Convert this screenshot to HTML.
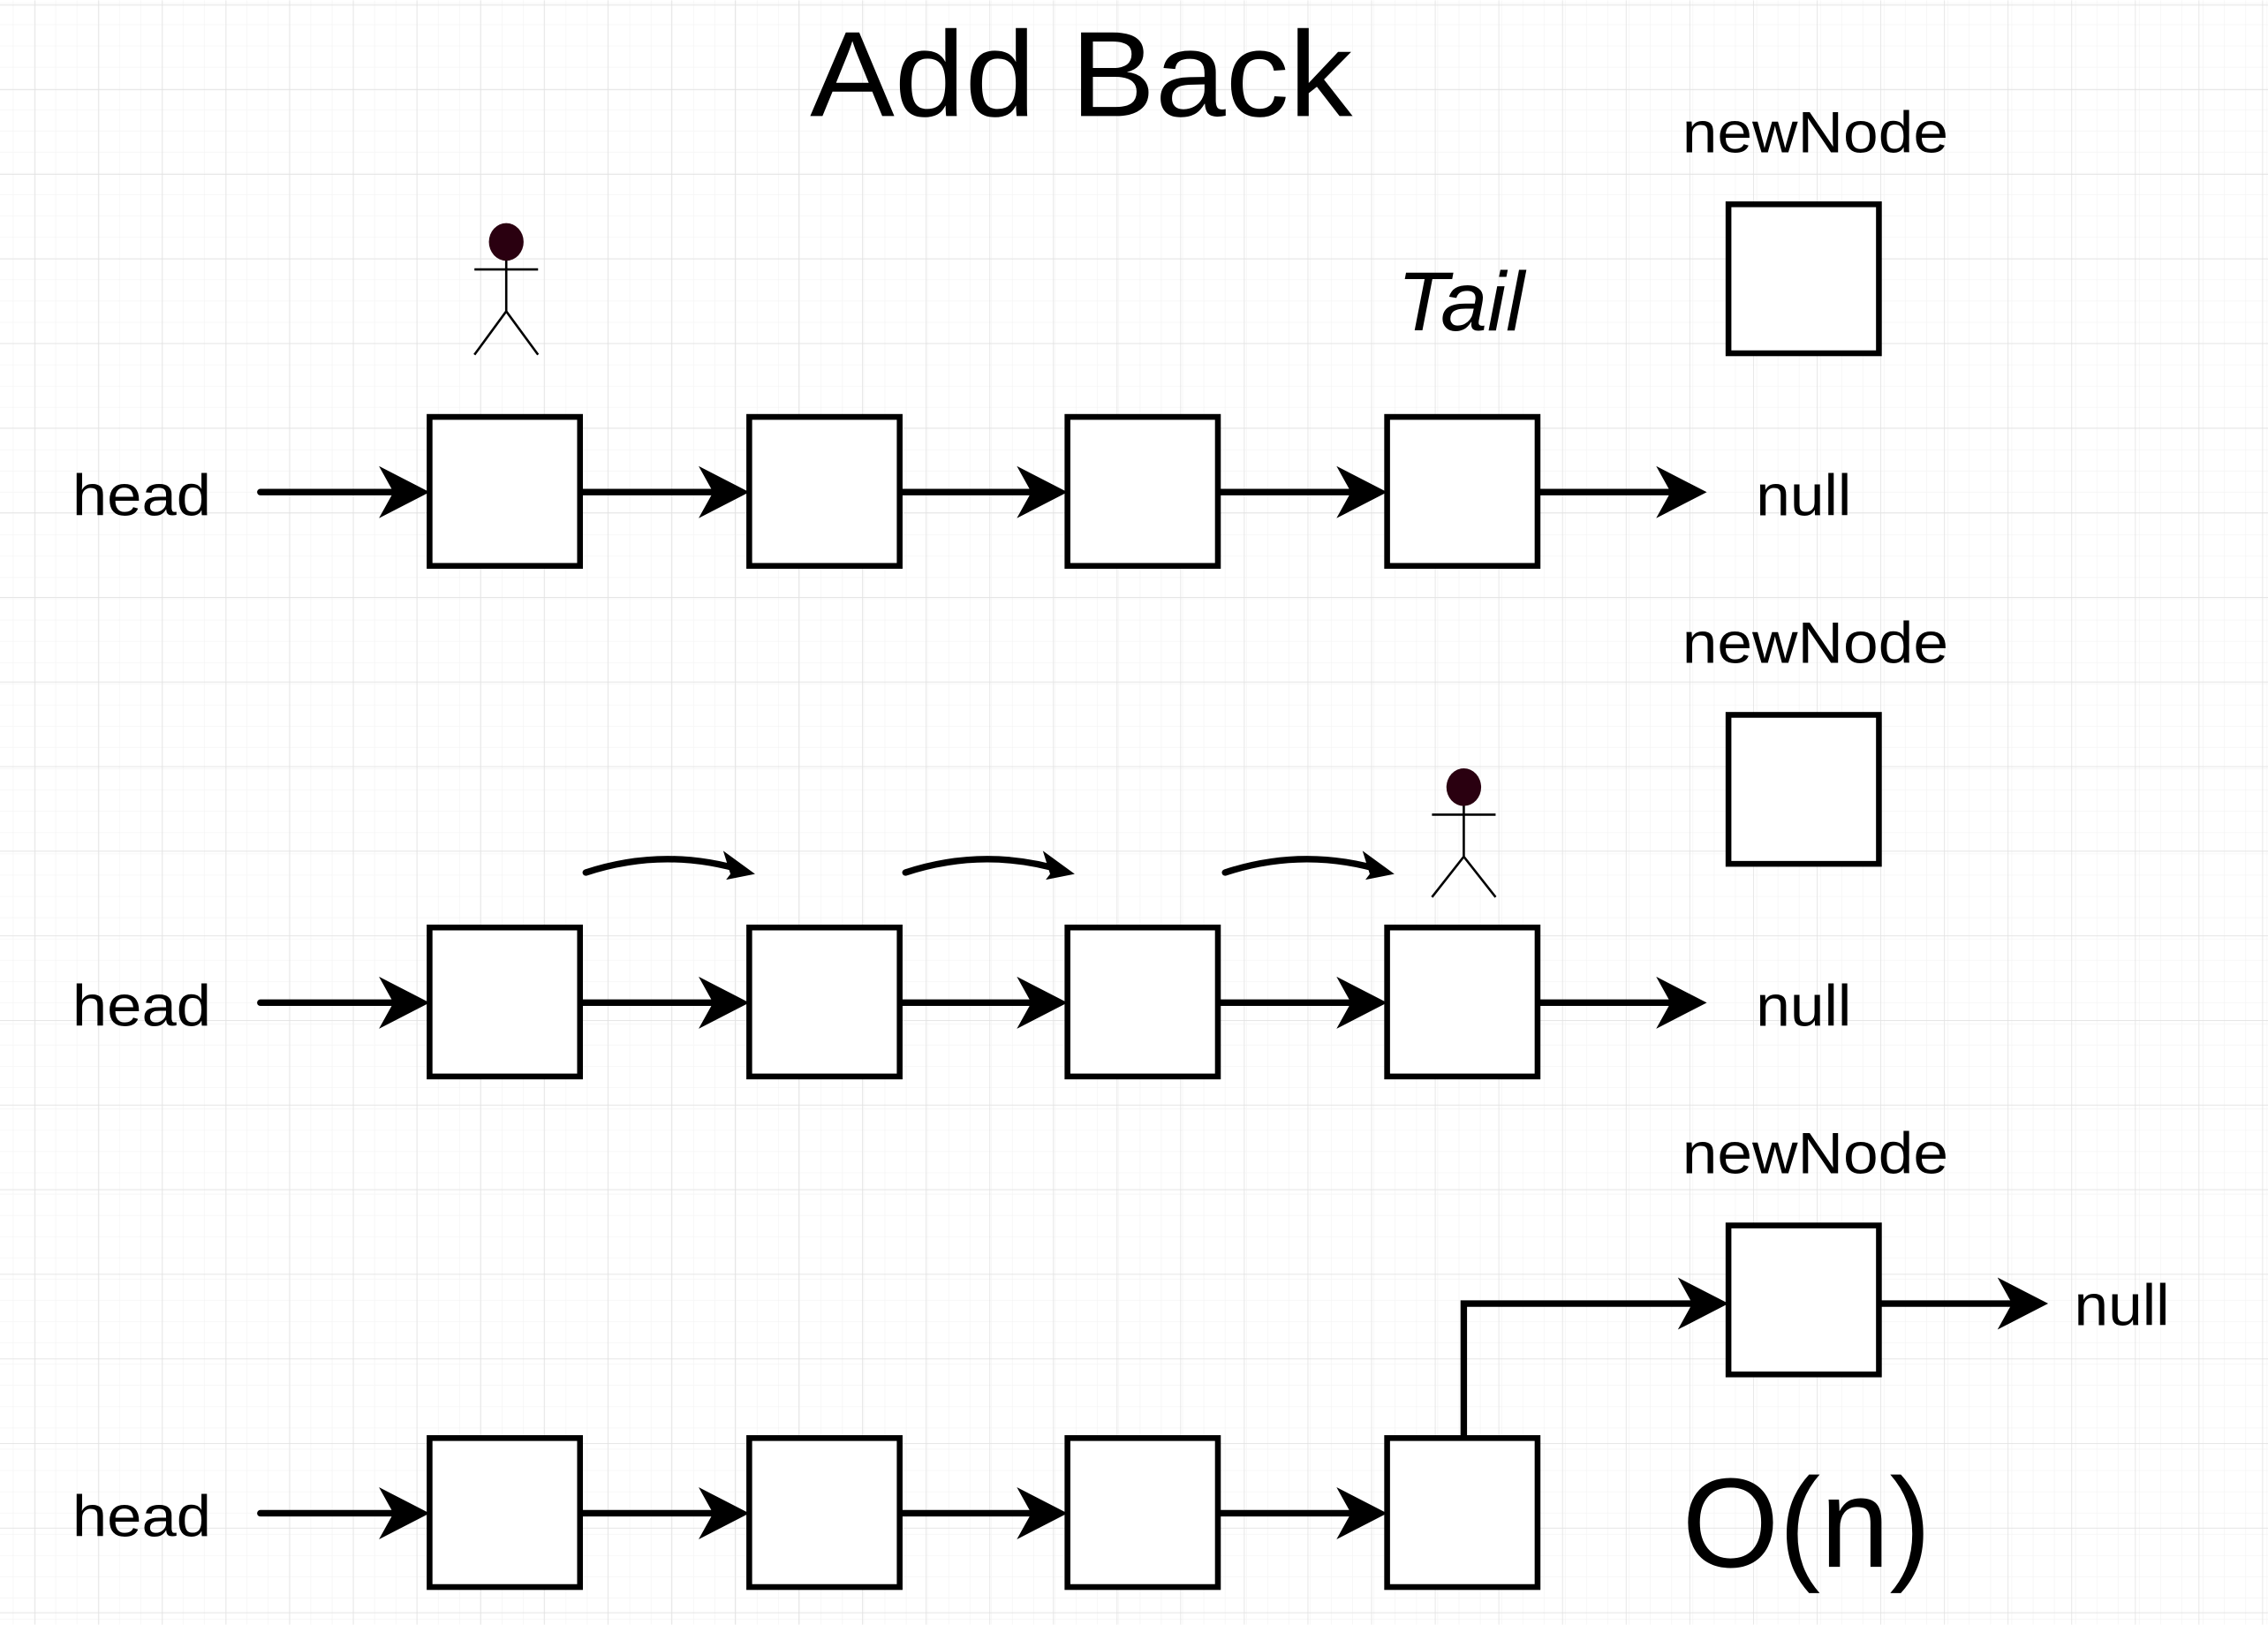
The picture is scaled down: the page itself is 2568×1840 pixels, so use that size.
<!DOCTYPE html>
<html><head><meta charset="utf-8"><style>html,body{margin:0;padding:0;background:#fff}svg{display:block}</style></head>
<body>
<svg width="2568" height="1840" viewBox="0 0 1568 1123" xmlns="http://www.w3.org/2000/svg">
<defs>
<pattern id="minor" width="14.7" height="14.7" patternUnits="userSpaceOnUse" x="24" y="17">
<path d="M14.7 0V14.7M0 14.7H14.7" stroke="#f3f3f3" stroke-width="0.8" fill="none"/></pattern>
<pattern id="major" width="44" height="58.5" patternUnits="userSpaceOnUse" x="24" y="3">
<path d="M0 0V58.5M0 0H44" stroke="#e2e2e2" stroke-width="1" fill="none"/></pattern>
</defs>
<rect width="1568" height="1123" fill="#fff"/>
<rect width="1568" height="1123" fill="url(#minor)"/>
<rect width="1568" height="1123" fill="url(#major)"/>
<g font-family="Liberation Sans, sans-serif" fill="#000" lengthAdjust="spacingAndGlyphs">
<text x="560" y="80" font-size="84" textLength="375" lengthAdjust="spacingAndGlyphs">Add Back</text>
<text x="1163" y="105" font-size="40" textLength="184" lengthAdjust="spacingAndGlyphs">newNode</text>
<text x="1163" y="458" font-size="40" textLength="184" lengthAdjust="spacingAndGlyphs">newNode</text>
<text x="1163" y="811" font-size="40" textLength="184" lengthAdjust="spacingAndGlyphs">newNode</text>
<text x="966" y="228" font-size="58" font-style="italic" textLength="88" lengthAdjust="spacingAndGlyphs">Tail</text>
<text x="50" y="356" font-size="40" textLength="96" lengthAdjust="spacingAndGlyphs">head</text>
<text x="50" y="709" font-size="40" textLength="96" lengthAdjust="spacingAndGlyphs">head</text>
<text x="50" y="1062" font-size="40" textLength="96" lengthAdjust="spacingAndGlyphs">head</text>
<text x="1214" y="356" font-size="40" textLength="66" lengthAdjust="spacingAndGlyphs">null</text>
<text x="1214" y="709" font-size="40" textLength="66" lengthAdjust="spacingAndGlyphs">null</text>
<text x="1434" y="916" font-size="40" textLength="66" lengthAdjust="spacingAndGlyphs">null</text>
<text x="1163" y="1083" font-size="88" textLength="172" lengthAdjust="spacingAndGlyphs">O(n)</text>
</g>
<g fill="#fff" stroke="#000" stroke-width="4">
<rect x="297" y="288" width="104" height="103"/><rect x="518" y="288" width="104" height="103"/><rect x="738" y="288" width="104" height="103"/><rect x="959" y="288" width="104" height="103"/>
<rect x="1195" y="141" width="104" height="103"/>
<rect x="297" y="641" width="104" height="103"/><rect x="518" y="641" width="104" height="103"/><rect x="738" y="641" width="104" height="103"/><rect x="959" y="641" width="104" height="103"/>
<rect x="1195" y="494" width="104" height="103"/>
<rect x="297" y="994" width="104" height="103"/><rect x="518" y="994" width="104" height="103"/><rect x="738" y="994" width="104" height="103"/><rect x="959" y="994" width="104" height="103"/>
<rect x="1195" y="847" width="104" height="103"/>
</g>
<g stroke="#000" stroke-width="4.5" fill="none" stroke-linecap="round">
<path d="M180 340H290M403 340H510M624 340H731M844 340H952M1065 340H1172"/>
<path d="M180 693H290M403 693H510M624 693H731M844 693H952M1065 693H1172"/>
<path d="M180 1046H290M403 1046H510M624 1046H731M844 1046H952"/>
<path d="M1012 992V901H1188M1301 901H1408"/>
<path d="M405 603Q460 585 515 602M626 603Q681 585 736 602M847 603Q902 585 957 602"/>
</g>
<g fill="#000">
<path d="M297 340L262 322L272 340L262 358Z"/><path d="M518 340L483 322L493 340L483 358Z"/><path d="M738 340L703 322L713 340L703 358Z"/><path d="M959 340L924 322L934 340L924 358Z"/><path d="M1180 340L1145 322L1155 340L1145 358Z"/>
<path d="M297 693L262 675L272 693L262 711Z"/><path d="M518 693L483 675L493 693L483 711Z"/><path d="M738 693L703 675L713 693L703 711Z"/><path d="M959 693L924 675L934 693L924 711Z"/><path d="M1180 693L1145 675L1155 693L1145 711Z"/>
<path d="M297 1046L262 1028L272 1046L262 1064Z"/><path d="M518 1046L483 1028L493 1046L483 1064Z"/><path d="M738 1046L703 1028L713 1046L703 1064Z"/><path d="M959 1046L924 1028L934 1046L924 1064Z"/>
<path d="M1195 901L1160 883L1170 901L1160 919Z"/><path d="M1416 901L1381 883L1391 901L1381 919Z"/>
<path d="M522 604L500 588L505 604L502 608Z"/><path d="M743 604L721 588L726 604L723 608Z"/><path d="M964 604L942 588L947 604L944 608Z"/>
</g>
<g stroke="#000" stroke-width="1.6" fill="none">
<path d="M350 177V215M328 186H372M328 245L350 215L372 245"/>
<path d="M1012 554V592M990 563H1034M990 620L1012 592L1034 620"/>
</g>
<ellipse cx="350" cy="167" rx="12" ry="13" fill="#2a0010"/>
<ellipse cx="1012" cy="544" rx="12" ry="13" fill="#2a0010"/>
</svg>
</body></html>
